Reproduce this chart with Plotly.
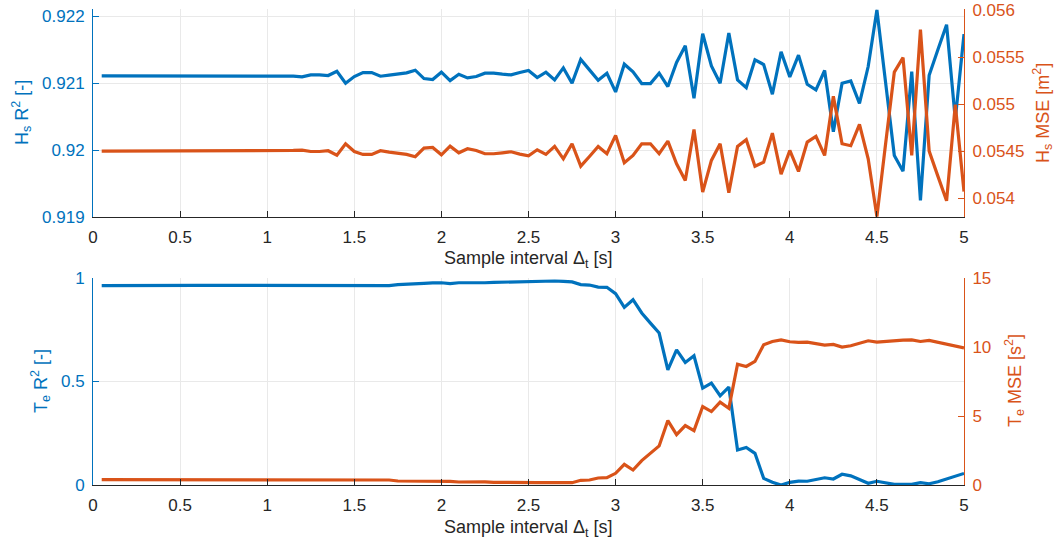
import plotly.graph_objects as go

# ---------------- data ----------------
dt = [0.05, 0.10, 0.15, 0.20, 0.25, 0.30, 0.35, 0.40, 0.45, 0.50,
      0.55, 0.60, 0.65, 0.70, 0.75, 0.80, 0.85, 0.90, 0.95, 1.00,
      1.05, 1.10, 1.15, 1.20, 1.25, 1.30, 1.35, 1.40, 1.45, 1.50,
      1.55, 1.60, 1.65, 1.70, 1.75, 1.80, 1.85, 1.90, 1.95, 2.00,
      2.05, 2.10, 2.15, 2.20, 2.25, 2.30, 2.35, 2.40, 2.45, 2.50,
      2.55, 2.60, 2.65, 2.70, 2.75, 2.80, 2.85, 2.90, 2.95, 3.00,
      3.05, 3.10, 3.15, 3.20, 3.25, 3.30, 3.35, 3.40, 3.45, 3.50,
      3.55, 3.60, 3.65, 3.70, 3.75, 3.80, 3.85, 3.90, 3.95, 4.00,
      4.05, 4.10, 4.15, 4.20, 4.25, 4.30, 4.35, 4.40, 4.45, 4.50,
      4.55, 4.60, 4.65, 4.70, 4.75, 4.80, 4.85, 4.90, 4.95, 5.00]

hs_r2 = [0.92111, 0.92111, 0.92111, 0.92111, 0.92111, 0.92111, 0.921112, 0.92111, 0.92111, 0.92111,
         0.921112, 0.92111, 0.92111, 0.921112, 0.92111, 0.92111, 0.921112, 0.921108, 0.921112, 0.921112,
         0.92111, 0.921115, 0.921105, 0.921095, 0.921125, 0.921125, 0.921115, 0.92118, 0.92100, 0.92110,
         0.92116, 0.92116, 0.921105, 0.92112, 0.92114, 0.921155, 0.921195, 0.92107, 0.921055, 0.921165,
         0.92104, 0.921135, 0.92108, 0.92110, 0.92115, 0.92115, 0.921135, 0.921125, 0.92116, 0.92119,
         0.921085, 0.921165, 0.92105, 0.92123, 0.92100, 0.921355, 0.92120, 0.921045, 0.92115, 0.92087,
         0.921285, 0.92117, 0.920995, 0.920995, 0.92115, 0.92095, 0.92131, 0.92156, 0.920775, 0.92174,
         0.92126, 0.92100, 0.92175, 0.92105, 0.920935, 0.92135, 0.92128, 0.920835, 0.92147, 0.921095,
         0.92142, 0.920985, 0.92090, 0.92119, 0.920275, 0.92100, 0.921035, 0.92070, 0.92125, 0.922095,
         0.92101, 0.91992, 0.919685, 0.921175, 0.91925, 0.92112, 0.92150, 0.921875, 0.92046, 0.921735]

hs_mse = [0.0545, 0.0545, 0.0545, 0.0545, 0.0545, 0.0545, 0.0545, 0.0545, 0.0545, 0.0545,
          0.0545, 0.0545, 0.0545, 0.0545, 0.0545, 0.0545, 0.0545, 0.0545, 0.0545, 0.0545,
          0.0545, 0.0545, 0.054507, 0.054511, 0.054496, 0.054496, 0.054504, 0.054457, 0.054578, 0.054496,
          0.054465, 0.054465, 0.054504, 0.054489, 0.054475, 0.054465, 0.05444, 0.054532, 0.054539, 0.054461,
          0.054553, 0.054482, 0.054525, 0.054507, 0.054472, 0.054472, 0.054482, 0.054493, 0.054468, 0.05445,
          0.054514, 0.054465, 0.05455, 0.054418, 0.054578, 0.05434, 0.054443, 0.05455, 0.054472, 0.054667,
          0.054376, 0.054454, 0.054578, 0.054578, 0.054472, 0.054606, 0.054365, 0.054188, 0.05473, 0.054064,
          0.054401, 0.054578, 0.054057, 0.05455, 0.054621, 0.05434, 0.054383, 0.054691, 0.054255, 0.054507,
          0.054284, 0.054596, 0.054656, 0.054454, 0.055082, 0.054578, 0.054557, 0.054784, 0.054418, 0.053805,
          0.054578, 0.05534, 0.055493, 0.054454, 0.055791, 0.0545, 0.054234, 0.053972, 0.054993, 0.054071]

te_r2 = [0.963, 0.9635, 0.964, 0.964, 0.964, 0.964, 0.964, 0.9645, 0.9645, 0.9645,
         0.9645, 0.9645, 0.9645, 0.9645, 0.9645, 0.9643, 0.9643, 0.9645, 0.9645, 0.9645,
         0.9645, 0.9645, 0.9645, 0.9645, 0.9645, 0.9645, 0.9645, 0.9645, 0.9645, 0.9645,
         0.9645, 0.9645, 0.9645, 0.963, 0.968, 0.971, 0.972, 0.974, 0.976, 0.977,
         0.973, 0.977, 0.977, 0.976, 0.977, 0.979, 0.980, 0.982, 0.984, 0.984,
         0.984, 0.984, 0.9855, 0.984, 0.981, 0.968, 0.966, 0.956, 0.955, 0.924,
         0.858, 0.895, 0.831, 0.782, 0.734, 0.556, 0.653, 0.592, 0.624, 0.468,
         0.492, 0.431, 0.473, 0.169, 0.181, 0.153, 0.032, 0.013, 0.0, 0.013,
         0.019, 0.018, 0.027, 0.035, 0.029, 0.052, 0.044, 0.024, 0.008, 0.018,
         0.011, 0.003, 0.003, 0.003, 0.011, 0.006, 0.016, 0.029, 0.040, 0.056]

te_mse = [0.387, 0.387, 0.387, 0.38, 0.38, 0.38, 0.38, 0.387, 0.38, 0.375,
          0.375, 0.375, 0.38, 0.38, 0.38, 0.387, 0.387, 0.375, 0.375, 0.363,
          0.363, 0.363, 0.363, 0.363, 0.363, 0.363, 0.363, 0.363, 0.363, 0.363,
          0.375, 0.375, 0.387, 0.363, 0.29, 0.29, 0.27, 0.266, 0.25, 0.242,
          0.266, 0.218, 0.23, 0.242, 0.22, 0.194, 0.18, 0.169, 0.169, 0.169,
          0.169, 0.169, 0.145, 0.169, 0.169, 0.339, 0.363, 0.508, 0.532, 0.847,
          1.50, 1.089, 1.766, 2.298, 2.831, 4.669, 3.653, 4.306, 3.944, 5.685,
          5.323, 6.0, 5.565, 8.758, 8.589, 8.952, 10.16, 10.40, 10.52, 10.38,
          10.33, 10.35, 10.23, 10.14, 10.19, 9.99, 10.09, 10.28, 10.45, 10.35,
          10.40, 10.50, 10.50, 10.52, 10.40, 10.48, 10.35, 10.23, 10.11, 9.94]

x_ticks = [0, 0.5, 1, 1.5, 2, 2.5, 3, 3.5, 4, 4.5, 5]
x_ticktext = ["0", "0.5", "1", "1.5", "2", "2.5", "3", "3.5", "4", "4.5", "5"]
hs_r2_ticks = [0.919, 0.920, 0.921, 0.922]
hs_r2_ticktext = ["0.919", "0.92", "0.921", "0.922"]
hs_mse_ticks = [0.054, 0.0545, 0.055, 0.0555, 0.056]
hs_mse_ticktext = ["0.054", "0.0545", "0.055", "0.0555", "0.056"]
te_r2_ticks = [0, 0.5, 1]
te_r2_ticktext = ["0", "0.5", "1"]
te_mse_ticks = [0, 5, 10, 15]
te_mse_ticktext = ["0", "5", "10", "15"]

# ---------------- style ----------------
BLUE = "#0072BD"
ORANGE = "#D95319"
DARK = "#262626"
GRID = "#E9E9E9"
FONT = "Liberation Sans, Arial, Helvetica, sans-serif"
FS = 17
TFS = 18
LW = 3.2
W, H = 1062, 544
ML, MR, MT, MB = 93, 98, 9, 59

fig = go.Figure()
fig.add_trace(go.Scatter(x=dt, y=hs_r2, mode="lines", line=dict(color=BLUE, width=LW),
                         xaxis="x", yaxis="y", showlegend=False))
fig.add_trace(go.Scatter(x=dt, y=hs_mse, mode="lines", line=dict(color=ORANGE, width=LW),
                         xaxis="x", yaxis="y2", showlegend=False))
fig.add_trace(go.Scatter(x=dt, y=te_r2, mode="lines", line=dict(color=BLUE, width=LW),
                         xaxis="x2", yaxis="y3", showlegend=False))
fig.add_trace(go.Scatter(x=dt, y=te_mse, mode="lines", line=dict(color=ORANGE, width=LW),
                         xaxis="x2", yaxis="y4", showlegend=False))

plot_h = H - MT - MB
top_dom = [1 - (217 - MT) / plot_h, 1.0]
bot_dom = [0.0, (485 - 278) / plot_h]


def xax(anchor):
    return dict(domain=[0, 1], anchor=anchor, range=[0, 5], tickvals=x_ticks, ticktext=x_ticktext,
                ticks="inside", ticklen=6, tickcolor=DARK, showline=True, linecolor=DARK, linewidth=1,
                showgrid=True, gridcolor=GRID, gridwidth=1, zeroline=False,
                tickfont=dict(family=FONT, size=FS, color=DARK), ticklabelstandoff=5)


def yax_left(dom, rng, tv, tt, anchor):
    return dict(domain=dom, anchor=anchor, range=rng, tickvals=tv, ticktext=tt, side="left",
                ticks="inside", ticklen=6, tickcolor=BLUE, showline=True, linecolor=BLUE, linewidth=1,
                showgrid=True, gridcolor=GRID, gridwidth=1, zeroline=False,
                tickfont=dict(family=FONT, size=FS, color=BLUE), ticklabelstandoff=4)


def yax_right(over, rng, tv, tt, anchor):
    return dict(overlaying=over, anchor=anchor, range=rng, tickvals=tv, ticktext=tt, side="right",
                ticks="inside", ticklen=6, tickcolor=ORANGE, showline=True, linecolor=ORANGE, linewidth=1,
                showgrid=False, zeroline=False,
                tickfont=dict(family=FONT, size=FS, color=ORANGE), ticklabelstandoff=4)


fig.update_layout(
    width=W, height=H,
    margin=dict(l=ML, r=MR, t=MT, b=MB, autoexpand=False),
    paper_bgcolor="white", plot_bgcolor="white",
    font=dict(family=FONT, size=FS, color=DARK),
    xaxis=xax("y"),
    xaxis2=xax("y3"),
    yaxis=yax_left(top_dom, [0.919, 0.92211], hs_r2_ticks, hs_r2_ticktext, "x"),
    yaxis2=yax_right("y", [0.0538, 0.05601], hs_mse_ticks, hs_mse_ticktext, "x"),
    yaxis3=yax_left(bot_dom, [0, 1], te_r2_ticks, te_r2_ticktext, "x2"),
    yaxis4=yax_right("y3", [0, 15], te_mse_ticks, te_mse_ticktext, "x2"),
    showlegend=False,
)

pw = W - ML - MR


def px_x(px):
    return (px - ML) / pw


def px_y(py):
    return 1 - (py - MT) / plot_h


anns = [
    dict(text="Sample interval Δ<sub>t</sub> [s]", x=px_x(528), y=px_y(259), color=DARK, angle=0),
    dict(text="Sample interval Δ<sub>t</sub> [s]", x=px_x(528), y=px_y(528), color=DARK, angle=0),
    dict(text="H<sub>s</sub> R<sup>2</sup> [-]", x=px_x(21), y=px_y(113), color=BLUE, angle=-90),
    dict(text="H<sub>s</sub> MSE [m<sup>2</sup>]", x=px_x(1042), y=px_y(113), color=ORANGE, angle=-90),
    dict(text="T<sub>e</sub> R<sup>2</sup> [-]", x=px_x(40), y=px_y(381), color=BLUE, angle=-90),
    dict(text="T<sub>e</sub> MSE [s<sup>2</sup>]", x=px_x(1014), y=px_y(381), color=ORANGE, angle=-90),
]
for a in anns:
    fig.add_annotation(text=a["text"], x=a["x"], y=a["y"], xref="paper", yref="paper",
                       xanchor="center", yanchor="middle", showarrow=False, textangle=a["angle"],
                       font=dict(family=FONT, size=TFS, color=a["color"]))

fig.write_html("out.html")
